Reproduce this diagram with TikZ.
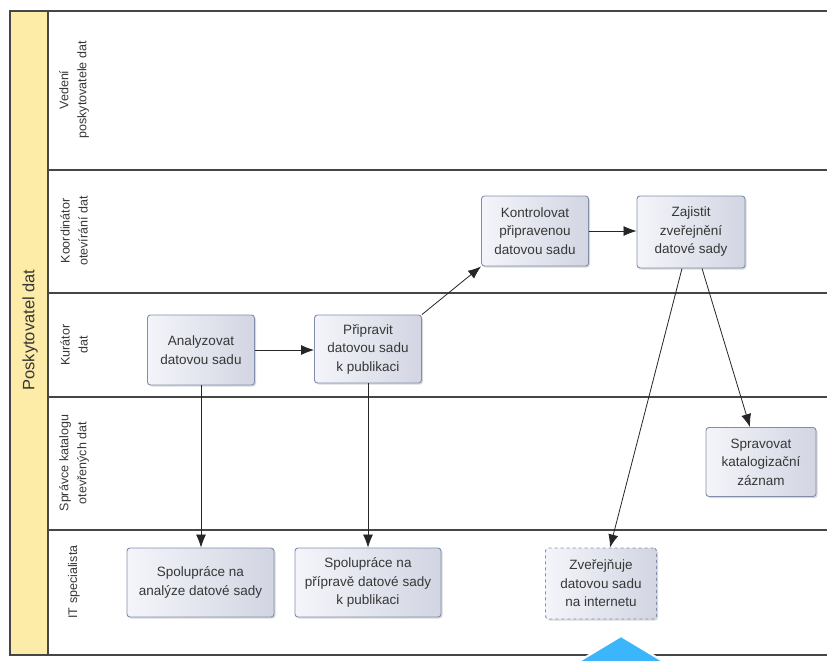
\documentclass[tikz,border=0pt]{standalone}
\usepackage{fontspec}
\setmainfont{Liberation Sans}
\usetikzlibrary{arrows.meta,shadows,calc}
\definecolor{boxborder}{RGB}{128,142,172}
\definecolor{boxL}{RGB}{244,245,250}
\definecolor{boxR}{RGB}{210,213,226}
\definecolor{txt}{RGB}{55,55,55}
\definecolor{poolfill}{RGB}{252,236,168}
\definecolor{frame}{RGB}{70,70,70}
\definecolor{tri}{RGB}{59,182,251}
\begin{document}
\begin{tikzpicture}[x=1pt,y=-1pt,
  task/.style={draw=boxborder, line width=0.9pt, rounded corners=3pt,
    left color=boxL, right color=boxR, align=center, text=txt,
    font=\fontsize{13.5}{18.5}\selectfont, inner sep=2pt,
    drop shadow={shadow xshift=1.5pt, shadow yshift=-1.5pt, opacity=0.3}},
  lanelabel/.style={rotate=90, align=center, text=txt, font=\fontsize{12.5}{18}\selectfont},
  lane/.style={draw=frame, line width=1.3pt},
  arr/.style={draw=black!85, line width=0.8pt, -{Latex[length=13pt,width=10pt]}}
]
\useasboundingbox (0,0) rectangle (827,661);
\fill[white] (0,0) rectangle (827,661);
% pool strip
\fill[poolfill] (10,11) rectangle (48,655);
\draw[lane] (827,11) -- (10,11) -- (10,655) -- (827,655);
\draw[lane] (48,11) -- (48,655);
\foreach \yy in {170,293,397,530} \draw[lane] (48,\yy) -- (827,\yy);
% labels
\node[rotate=90, text=txt, font=\fontsize{16.5}{20}\selectfont] (pool) at (30,330) {Poskytovatel dat};
\node[lanelabel] (l1) at (74,90) {Vedení\\poskytovatele dat};
\node[lanelabel] (l2) at (74,231) {Koordinátor\\otevírání dat};
\node[lanelabel] (l3) at (74,345) {Kurátor\\dat};
\node[lanelabel] (l4) at (74,463) {Správce katalogu\\otevřených dat};
\node[lanelabel] (l5) at (74,582) {IT specialista};
% tasks
\node[task, minimum width=107pt, minimum height=70pt] (A) at (201,350) {Analyzovat\\datovou sadu};
\node[task, minimum width=107pt, minimum height=68pt] (P) at (368,349) {Připravit\\datovou sadu\\k publikaci};
\node[task, minimum width=107pt, minimum height=70pt] (K) at (535,231) {Kontrolovat\\připravenou\\datovou sadu};
\node[task, minimum width=108pt, minimum height=72pt] (Z) at (691,232) {Zajistit\\zveřejnění\\datové sady};
\node[task, minimum width=110pt, minimum height=69pt] (S) at (761,462) {Spravovat\\katalogizační\\záznam};
\node[task, minimum width=147pt, minimum height=69pt] (SA) at (200.5,582.5) {Spolupráce na\\analýze datové sady};
\node[task, minimum width=146pt, minimum height=69pt] (SP) at (368,582.5) {Spolupráce na\\přípravě datové sady\\k publikaci};
\node[task, dashed, minimum width=111pt, minimum height=71pt] (ZV) at (601,583.5) {Zveřejňuje\\datovou sadu\\na internetu};
% connectors
\draw[arr] (A.east) -- (A.east -| P.west);
\draw[arr] (P.north east) -- (K.south west);
\draw[arr] (K.east) -- (K.east -| Z.west);
\draw[arr] ($(Z.south)+(-9,0)$) -- ($(ZV.north)+(9,0)$);
\draw[arr] ($(Z.south)+(11,0)$) -- ($(S.north)+(-11,0)$);
\draw[arr] (A.south) -- (A.south |- SA.north);
\draw[arr] (P.south) -- (P.south |- SP.north);
% blue marker
\filldraw[fill=tri, draw=white, line width=2pt] (576,663) -- (621,636) -- (666,663) -- cycle;
\end{tikzpicture}
\end{document}
